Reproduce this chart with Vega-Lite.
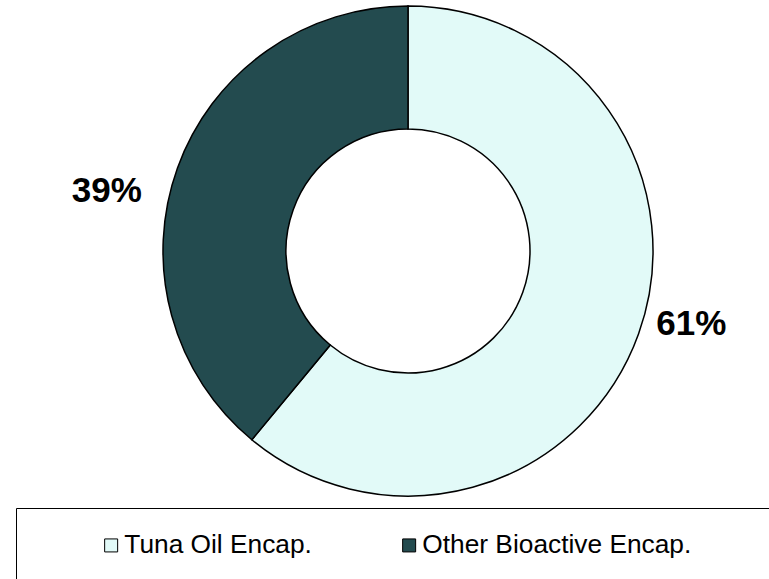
{
  "$schema": "https://vega.github.io/schema/vega-lite/v6.json",
  "width": 490,
  "height": 490,
  "autosize": {"type": "none"},
  "padding": {"left": 163, "top": 6, "right": 116, "bottom": 83},
  "background": "white",
  "config": {"view": {"stroke": null}, "font": "Liberation Sans"},
  "data": {
    "values": [
      {"category": "Tuna Oil Encap.", "value": 0.61, "order": 1},
      {"category": "Other Bioactive Encap.", "value": 0.39, "order": 2}
    ]
  },
  "encoding": {
    "theta": {"field": "value", "type": "quantitative", "stack": true},
    "order": {"field": "order", "type": "quantitative"}
  },
  "layer": [
    {
      "mark": {"type": "arc", "outerRadius": 245, "innerRadius": 122, "stroke": "black", "strokeWidth": 1.5},
      "encoding": {
        "color": {
          "field": "category",
          "type": "nominal",
          "scale": {"domain": ["Tuna Oil Encap.", "Other Bioactive Encap."], "range": ["#E2FAF8", "#234B4F"]},
          "legend": {
            "orient": "none",
            "legendX": -147,
            "legendY": 502,
            "direction": "horizontal",
            "title": "\u2800\u2800\u2800",
            "titleOrient": "right",
            "titleFont": "DejaVu Sans",
            "titleFontSize": 26,
            "titlePadding": 0,
            "strokeColor": "black",
            "fillColor": "white",
            "padding": 24,
            "symbolType": "square",
            "symbolSize": 169,
            "symbolStrokeColor": "black",
            "symbolStrokeWidth": 1,
            "symbolOpacity": 1,
            "labelFontSize": 26.3,
            "labelFont": "Liberation Sans",
            "labelColor": "black",
            "symbolOffset": 58,
            "labelOffset": 0,
            "columnPadding": 26,
            "labelLimit": 1000
          }
        }
      }
    },
    {
      "mark": {"type": "text", "radius": 300, "fontSize": 35, "fontWeight": "bold", "font": "Liberation Sans", "color": "black", "align": "center", "baseline": "middle", "dx": -19, "dy": 42},
      "encoding": {
        "text": {"condition": {"test": "datum.order == 2", "field": "value", "type": "quantitative", "format": ".0%"}, "value": ""}
      }
    },
    {
      "mark": {"type": "text", "radius": 300, "fontSize": 35, "fontWeight": "bold", "font": "Liberation Sans", "color": "black", "align": "center", "baseline": "middle", "dx": 1, "dy": -29},
      "encoding": {
        "text": {"condition": {"test": "datum.order == 1", "field": "value", "type": "quantitative", "format": ".0%"}, "value": ""}
      }
    }
  ]
}
